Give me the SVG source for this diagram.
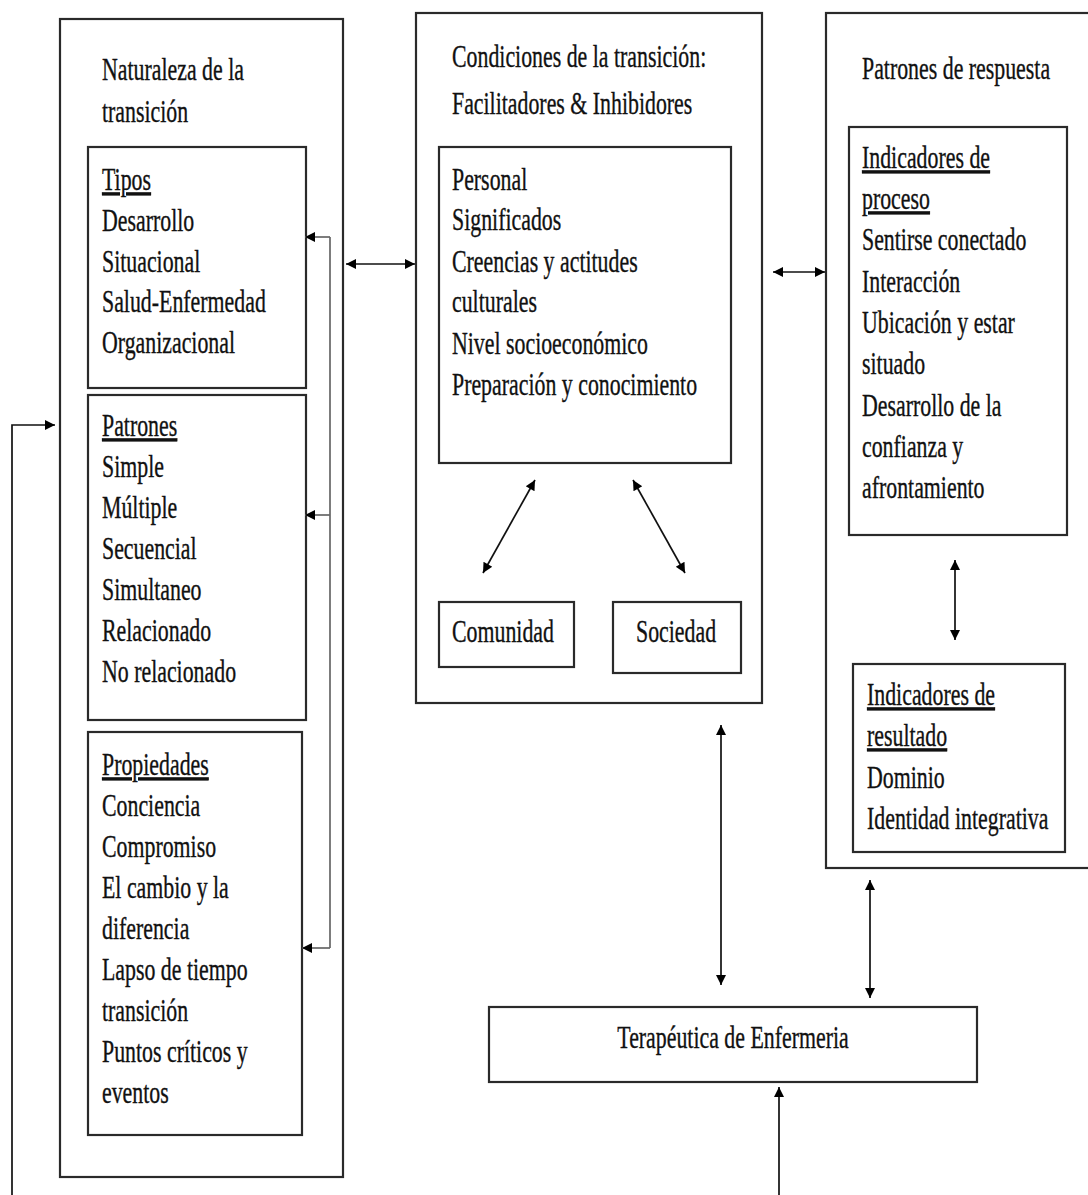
<svg xmlns="http://www.w3.org/2000/svg" width="1088" height="1195" viewBox="0 0 1088 1195">
<style>
.box{fill:#fff;stroke:#2a2a2a;stroke-width:2.2}
.t{font-family:"Liberation Serif","Times New Roman",serif;font-size:31px;fill:#111;stroke:#111;stroke-width:0.35}
.u{text-decoration:underline}
.c{fill:none;stroke:#111;stroke-width:1.7}
.g{fill:none;stroke:#666;stroke-width:1.7}
</style>
<defs>
<marker id="ah" viewBox="0 0 10 10" refX="10" refY="5" markerWidth="13" markerHeight="10" markerUnits="userSpaceOnUse" orient="auto-start-reverse">
<path d="M0,0 L10,5 L0,10 z" fill="#000"/>
</marker>
</defs>
<rect width="1088" height="1195" fill="#fff"/>

<g id="naturaleza">
<rect class="box" x="60" y="19" width="283" height="1158"/>
<g transform="translate(102 0) scale(0.705 1)">
<text class="t" x="0" y="80">Naturaleza de la</text>
<text class="t" x="0" y="122">transición</text>
</g>
</g>

<g id="tipos">
<rect class="box" x="88" y="147" width="218" height="241"/>
<g transform="translate(102 0) scale(0.705 1)">
<text class="t u" x="0" y="190">Tipos</text>
<text class="t" x="0" y="231">Desarrollo</text>
<text class="t" x="0" y="272">Situacional</text>
<text class="t" x="0" y="312">Salud-Enfermedad</text>
<text class="t" x="0" y="353">Organizacional</text>
</g>
</g>

<g id="patrones">
<rect class="box" x="88" y="395" width="218" height="325"/>
<g transform="translate(102 0) scale(0.705 1)">
<text class="t u" x="0" y="436">Patrones</text>
<text class="t" x="0" y="477">Simple</text>
<text class="t" x="0" y="518">Múltiple</text>
<text class="t" x="0" y="559">Secuencial</text>
<text class="t" x="0" y="600">Simultaneo</text>
<text class="t" x="0" y="641">Relacionado</text>
<text class="t" x="0" y="682">No relacionado</text>
</g>
</g>

<g id="propiedades">
<rect class="box" x="88" y="732" width="214" height="403"/>
<g transform="translate(102 0) scale(0.705 1)">
<text class="t u" x="0" y="775">Propiedades</text>
<text class="t" x="0" y="816">Conciencia</text>
<text class="t" x="0" y="857">Compromiso</text>
<text class="t" x="0" y="898">El cambio y la</text>
<text class="t" x="0" y="939">diferencia</text>
<text class="t" x="0" y="980">Lapso de tiempo</text>
<text class="t" x="0" y="1021">transición</text>
<text class="t" x="0" y="1062">Puntos críticos y</text>
<text class="t" x="0" y="1103">eventos</text>
</g>
</g>

<g id="condiciones">
<rect class="box" x="416" y="13" width="346" height="690"/>
<g transform="translate(452 0) scale(0.705 1)">
<text class="t" x="0" y="67">Condiciones de la transición:</text>
<text class="t" x="0" y="114">Facilitadores &amp; Inhibidores</text>
</g>
</g>

<g id="personal">
<rect class="box" x="439" y="147" width="292" height="316"/>
<g transform="translate(452 0) scale(0.705 1)">
<text class="t" x="0" y="190">Personal</text>
<text class="t" x="0" y="230">Significados</text>
<text class="t" x="0" y="272">Creencias y actitudes</text>
<text class="t" x="0" y="312">culturales</text>
<text class="t" x="0" y="354">Nivel socioeconómico</text>
<text class="t" x="0" y="395">Preparación y conocimiento</text>
</g>
</g>

<g id="comunidad">
<rect class="box" x="439" y="602" width="135" height="65"/>
<g transform="translate(452 0) scale(0.705 1)">
<text class="t" x="0" y="642">Comunidad</text>
</g>
</g>

<g id="sociedad">
<rect class="box" x="613" y="602" width="128" height="71"/>
<g transform="translate(636 0) scale(0.705 1)">
<text class="t" x="0" y="642">Sociedad</text>
</g>
</g>

<g id="respuesta">
<rect class="box" x="826" y="13" width="270" height="855"/>
<g transform="translate(862 0) scale(0.705 1)">
<text class="t" x="0" y="79">Patrones de respuesta</text>
</g>
</g>

<g id="proceso">
<rect class="box" x="849" y="127" width="218" height="408"/>
<g transform="translate(862 0) scale(0.705 1)">
<text class="t u" x="0" y="168">Indicadores de</text>
<text class="t u" x="0" y="209">proceso</text>
<text class="t" x="0" y="250">Sentirse conectado</text>
<text class="t" x="0" y="292">Interacción</text>
<text class="t" x="0" y="333">Ubicación y estar</text>
<text class="t" x="0" y="374">situado</text>
<text class="t" x="0" y="416">Desarrollo de la</text>
<text class="t" x="0" y="457">confianza y</text>
<text class="t" x="0" y="498">afrontamiento</text>
</g>
</g>

<g id="resultado">
<rect class="box" x="853" y="664" width="212" height="188"/>
<g transform="translate(867 0) scale(0.705 1)">
<text class="t u" x="0" y="705">Indicadores de</text>
<text class="t u" x="0" y="746">resultado</text>
<text class="t" x="0" y="788">Dominio</text>
<text class="t" x="0" y="829">Identidad integrativa</text>
</g>
</g>

<g id="terapeutica">
<rect class="box" x="489" y="1007" width="488" height="75"/>
<g transform="translate(733 0) scale(0.705 1)">
<text class="t" x="0" y="1048" text-anchor="middle">Terapéutica de Enfermeria</text>
</g>
</g>

<g id="connectors">
<path class="g" d="M330,237 V948"/>
<path class="g" d="M330,237 H305" marker-end="url(#ah)"/>
<path class="g" d="M330,515 H305" marker-end="url(#ah)"/>
<path class="g" d="M330,948 H302" marker-end="url(#ah)"/>
<path class="c" d="M346,264 H415" stroke-width="2.4" marker-start="url(#ah)" marker-end="url(#ah)"/>
<path class="c" d="M773,272 H825" stroke-width="2.4" marker-start="url(#ah)" marker-end="url(#ah)"/>
<path class="c" d="M535,480 L483,573" marker-start="url(#ah)" marker-end="url(#ah)"/>
<path class="c" d="M633,480 L685,573" marker-start="url(#ah)" marker-end="url(#ah)"/>
<path class="c" d="M955,560 V640" marker-start="url(#ah)" marker-end="url(#ah)"/>
<path class="c" d="M721,725 V985" marker-start="url(#ah)" marker-end="url(#ah)"/>
<path class="c" d="M870,880 V998" marker-start="url(#ah)" marker-end="url(#ah)"/>
<path class="c" d="M779,1195 V1087" marker-end="url(#ah)"/>
<path class="c" d="M12,1195 V425 H55" marker-end="url(#ah)"/>
</g>
</svg>
